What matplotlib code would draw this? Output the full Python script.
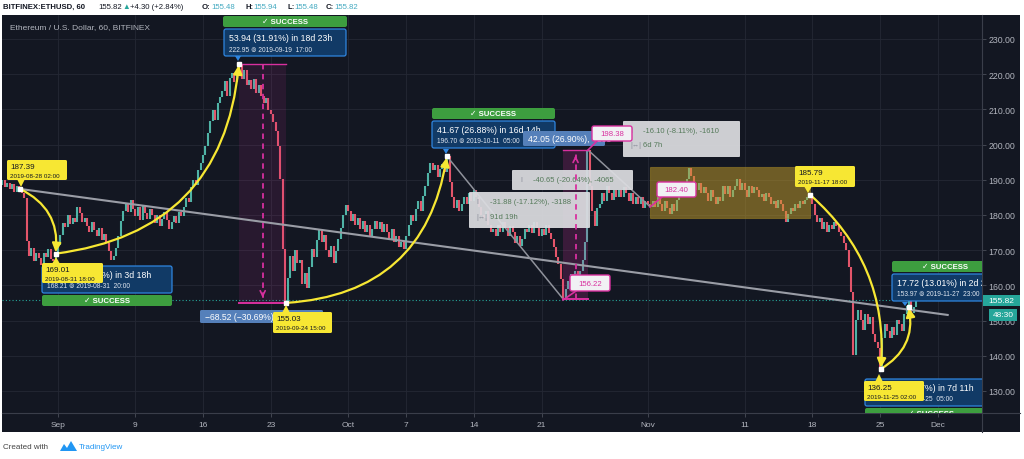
import matplotlib
matplotlib.use("Agg")
import matplotlib.pyplot as plt
import matplotlib.dates as mdates
import matplotlib.transforms as mtransforms
from matplotlib.patches import Rectangle, FancyBboxPatch, FancyArrowPatch, Polygon
from matplotlib.lines import Line2D
import numpy as np
import pandas as pd

# 6-hourly closes (00, 06, 12, 18h), from 2019-08-26
closes = [
    188.6, 189.8, 187.9, 189.2,   # Aug 26
    187.5, 188.9, 186.4, 188.1,
    187.39, 186.2, 184.9, 172.5,
    168.4, 170.6, 166.9, 169.3,
    167.8, 165.9, 169.1, 168.2,
    170.4, 167.6, 166.8, 169.01,  # Aug 31
    171.5, 174.2, 177.8, 176.6,   # Sep 1
    179.9, 177.3, 179.1, 178.0,
    182.3, 180.7, 177.9, 179.2,
    176.8, 175.1, 177.9, 175.8,
    173.9, 176.2, 172.8, 174.6,
    171.9, 169.8, 167.2, 168.4,
    170.5, 174.1, 178.3, 181.2,
    183.1, 180.9, 184.2, 181.8,
    179.7, 182.4, 178.6, 182.9,
    180.6, 178.8, 181.7, 179.9,   # Sep 10
    177.6, 180.1, 176.9, 178.8,
    180.9, 178.7, 175.9, 178.1,
    179.8, 177.6, 180.9, 179.7,
    182.2, 184.8, 183.6, 187.9,
    189.8, 188.6, 192.9, 194.8,
    196.9, 199.7, 203.2, 206.8,
    209.7, 206.9, 211.8, 213.6,
    215.2, 218.1, 213.9, 218.8,
    220.3, 217.9, 220.8, 222.95,
    218.7, 221.2, 216.8, 218.3,   # Sep 20
    215.9, 218.6, 214.7, 216.9,
    213.8, 211.7, 213.1, 209.8,
    208.6, 206.5, 203.9, 199.6,
    190.2, 170.4, 155.03, 162.1,
    168.3, 164.2, 170.1, 166.4,
    167.2, 160.3, 163.4, 159.2,
    165.1, 170.2, 168.1, 173.0,
    175.9, 172.2, 174.3, 170.1,
    168.2, 171.1, 166.3, 169.8,
    173.2, 176.4, 180.1, 182.9,   # Sep 30
    181.2, 178.4, 180.3, 177.1,   # Oct 1
    179.2, 176.1, 178.4, 175.3,
    177.2, 173.8, 176.1, 178.2,
    176.0, 178.1, 175.2, 177.3,
    175.1, 172.9, 176.0, 172.4,
    174.1, 170.9, 172.2, 170.3,
    173.9, 177.2, 180.1, 178.2,
    181.8, 184.1, 181.2, 185.3,
    188.1, 191.8, 194.9, 192.7,
    194.2, 190.8, 193.1, 194.6,   # Oct 10
    192.2, 196.70, 189.3, 185.1,
    182.1, 184.2, 181.0, 183.1,
    185.2, 183.0, 186.1, 184.0,
    187.0, 185.1, 182.2, 180.1,
    179.0, 181.2, 177.1, 175.2,
    176.1, 174.0, 177.2, 175.1,
    178.0, 176.2, 174.1, 177.0,
    175.2, 172.1, 174.0, 171.2,
    173.1, 176.0, 175.2, 177.1,
    175.0, 178.1, 176.2, 174.1,   # Oct 20
    176.0, 174.2, 177.1, 175.0,
    173.2, 171.0, 168.1, 166.2,
    161.8, 156.22, 159.1, 161.2,
    163.1, 160.2, 164.1, 162.0,
    164.2, 167.1, 172.2, 198.38,
    188.1, 181.2, 177.0, 182.1,
    183.2, 186.1, 184.0, 188.2,
    186.1, 184.2, 187.1, 185.0,
    187.2, 185.1, 188.0, 186.2,
    184.1, 186.2, 183.0, 185.1,   # Oct 30
    183.2, 185.0, 182.1, 184.0,
    183.1, 182.40, 184.1, 182.2,  # Nov 1
    185.0, 183.1, 181.2, 184.1,
    182.0, 180.2, 183.1, 181.0,
    184.2, 186.1, 189.0, 188.1,
    190.2, 193.4, 191.0, 189.1,
    187.0, 189.2, 186.1, 188.0,
    186.2, 184.0, 187.1, 185.2,
    183.1, 185.2, 184.0, 188.1,
    186.0, 188.2, 185.1, 187.0,
    188.2, 190.1, 187.0, 189.2,   # Nov 10
    187.1, 185.0, 188.2, 186.1,
    188.0, 187.1, 185.2, 186.0,
    184.1, 186.2, 185.0, 183.1,
    184.0, 182.1, 184.2, 183.0,
    181.1, 178.0, 180.2, 182.1,
    181.0, 183.2, 182.0, 184.1,
    183.0, 184.2, 185.1, 185.79,
    183.2, 180.1, 178.0, 179.2,
    176.1, 178.0, 175.2, 177.1,
    176.0, 178.1, 177.0, 175.2,   # Nov 20
    174.1, 172.0, 170.1, 165.2,
    158.1, 140.2, 150.1, 153.0,
    150.1, 147.2, 152.0, 149.1,
    151.0, 146.1, 144.0, 142.2,
    136.25, 145.1, 149.0, 147.1,
    145.0, 148.1, 146.0, 150.2,
    149.0, 147.1, 152.0, 154.1,
    156.0, 152.1, 154.0, 155.82,  # Nov 28
]

pivot_times = ["2019-08-28 02:00", "2019-08-31 18:00", "2019-09-19 17:00", "2019-09-24 15:00",
               "2019-10-11 05:00", "2019-11-17 18:00", "2019-11-25 02:00", "2019-11-27 23:00"]
pivot_prices = [187.39, 169.01, 222.95, 155.03, 196.70, 185.79, 136.25, 153.97]

range_times = ["2019-10-23 05:00", "2019-10-25 20:00", "2019-11-01 05:00"]
range_prices = [156.22, 198.38, 182.40]

trend_times = ["2019-08-28 02:00", "2019-12-02 00:00"]
trend_prices = [187.39, 151.6]

zone_times = ["2019-11-01 05:00", "2019-11-17 18:00"]
zone_prices = [179.2, 193.7]

last_price = 155.82

y_ticks = [130, 140, 150, 160, 170, 180, 190, 200, 210, 220, 230]
x_tick_dates = ["2019-09-01", "2019-09-09", "2019-09-16", "2019-09-23", "2019-10-01", "2019-10-07",
                "2019-10-14", "2019-10-21", "2019-11-01", "2019-11-11", "2019-11-18", "2019-11-25",
                "2019-12-01"]
x_tick_labels = ["Sep", "9", "16", "23", "Oct", "7", "14", "21", "Nov", "11", "18", "25", "Dec"]

BG = "#131722"
GRID = "#242834"
AXT = "#b2b5be"
UP = "#4fb3a6"
DOWN = "#e3556a"
YEL = "#f7e733"
BFILL = "#113a66"
BEDGE = "#2f86e0"
LBLUE = "#5580ba"
GREEN = "#3d9e3f"
PINK = "#d8309f"
TEAL = "#26a69a"

plt.rcParams["font.family"] = ["Liberation Sans", "DejaVu Sans"]

W, H = 1024, 460
fig = plt.figure(figsize=(W / 100, H / 100), dpi=100)
fig.patch.set_facecolor("white")
PX = mtransforms.Affine2D().scale(1 / W, -1 / H).translate(0, 1) + fig.transFigure


def num(s):
    return mdates.date2num(pd.to_datetime(s).to_numpy())


fig.add_artist(Rectangle((2, 16), 1018, 417, transform=PX, fc=BG, ec="none", zorder=-5))
ax = fig.add_axes([2 / W, 46 / H, 980 / W, 398 / H])
ax.set_facecolor(BG)

# candles
times = pd.date_range("2019-08-26", periods=len(closes), freq="6h")
tx = mdates.date2num(times.to_numpy())
c = np.array(closes)
o = np.r_[c[0], c[:-1]]
up = c >= o
ax.vlines(tx[up], o[up], c[up], color=UP, lw=1.5, zorder=2)
ax.vlines(tx[~up], c[~up], o[~up], color=DOWN, lw=1.5, zorder=2)

ax.axhline(last_price, color=TEAL, ls=(0, (1, 2)), lw=0.8, zorder=2)

px_t = num(pivot_times)
rx_t = num(range_times)

# trend lines
ax.plot(num(trend_times), trend_prices, color="#9a9da6", lw=1.5, zorder=3)
ax.plot([px_t[4], rx_t[0]], [pivot_prices[4], range_prices[0]], color="#8f929b", lw=1.1, zorder=3)
ax.plot([rx_t[1], rx_t[2]], [range_prices[1], range_prices[2]], color="#8f929b", lw=1.1, zorder=3)

# olive rectangle
zt = num(zone_times)
ax.add_patch(Rectangle((zt[0], zone_prices[0]), zt[1] - zt[0], zone_prices[1] - zone_prices[0],
                       fc="#c9a22a", alpha=0.5, ec="#a88a25", lw=0.8, zorder=2.5))


# price ranges
def price_range(t0, t1, p_from, p_to, fa, z):
    lo, hi = min(p_from, p_to), max(p_from, p_to)
    ax.add_patch(Rectangle((t0, lo), t1 - t0, hi - lo, fc=PINK, alpha=fa, ec="none", zorder=2.5))
    ax.plot([t0, t1], [hi, hi], color=PINK, lw=1.0, zorder=z)
    ax.plot([t0, t1], [lo, lo], color=PINK, lw=1.4, zorder=z)
    tm = (t0 + t1) / 2
    step = 1.2 if p_to > p_from else -1.2
    ax.plot([tm, tm], [p_from, p_to - step], color=PINK, lw=1.3, ls=(0, (3, 2.5)), zorder=z)
    ax.add_patch(FancyArrowPatch((tm, p_to - 2.5 * step), (tm, p_to - 0.6 * step), arrowstyle="->",
                                 mutation_scale=9, color=PINK, lw=1.2, zorder=z))


price_range(px_t[2], px_t[3], pivot_prices[2], pivot_prices[3], 0.11, 3)

# yellow curves
arcs = [(0, 1, -0.35), (1, 2, 0.4), (3, 4, 0.4), (5, 6, -0.25), (6, 7, 0.35)]
for a, b, rad in arcs:
    ax.add_patch(FancyArrowPatch((px_t[a], pivot_prices[a]), (px_t[b], pivot_prices[b]),
                                 connectionstyle=f"arc3,rad={rad}", arrowstyle="-|>", mutation_scale=13,
                                 color=YEL, lw=1.6, shrinkA=0, shrinkB=1, zorder=4))
ax.plot(px_t, pivot_prices, "s", ms=3, mfc="white", mec="white", ls="none", zorder=5)


# label helpers (pixel coords from top-left)
def rbox(x0, y0, x1, y1, fc, ec="none", lw=0.0, z=6, r=2.0, alpha=1.0):
    ax.add_patch(FancyBboxPatch((x0, y0), x1 - x0, y1 - y0, boxstyle=f"round,pad=0,rounding_size={r}",
                                transform=PX, fc=fc, ec=ec, lw=lw, alpha=alpha, zorder=z))


def ptxt(x, y, s, size, color, z=7, ha="left", weight="normal"):
    ax.text(x, y, s, transform=PX, fontsize=size, color=color, ha=ha, va="center",
            fontweight=weight, zorder=z, clip_on=True)


def tri(x, y0, y1, fc, z, half=3.5):
    ax.add_patch(Polygon([(x - half, y0), (x + half, y0), (x, y1)], closed=True, transform=PX,
                         fc=fc, ec="none", zorder=z))


def success(x0, x1, y0):
    rbox(x0, y0, x1, y0 + 11, GREEN, z=6)
    ptxt((x0 + x1) / 2, y0 + 5.8, "✓ SUCCESS", 5.6, "white", z=6.1, ha="center", weight="bold")


def forecast(x0, x1, y0, l1, l2, z=6.2):
    rbox(x0, y0, x1, y0 + 27, BFILL, BEDGE, 0.9, z=z)
    ptxt(x0 + 5, y0 + 8.5, l1, 6.3, "white", z=z + 0.05)
    ptxt(x0 + 5, y0 + 20, l2, 4.8, "#dfe6f0", z=z + 0.05)


def ylab(x0, y0, x1, y1, price, date, px, tip):
    rbox(x0, y0, x1, y1, YEL, z=8, r=1.5)
    tri(px, y1 if tip > y1 else y0, tip, YEL, 8)
    ptxt(x0 + 3, y0 + 6.5, price, 5.8, "#131722", z=8.1)
    ptxt(x0 + 3, y0 + 15.5, date, 4.5, "#131722", z=8.1)


def plab(x0, y0, x1, y1, s, p0, p1):
    ax.plot([p0[0], p1[0]], [p0[1], p1[1]], transform=PX, color=PINK, lw=1.2, zorder=8)
    rbox(x0, y0, x1, y1, "#f1f1f4", PINK, 1.0, z=8.2, r=2)
    ptxt((x0 + x1) / 2, (y0 + y1) / 2 + 0.5, s, 5.6, PINK, z=8.3, ha="center")


def gbox(x0, y0, x1, y1, rows, ix, tx_):
    rbox(x0, y0, x1, y1, "#dcdde1", z=6, r=1, alpha=0.93)
    for y, icon, s in rows:
        ptxt(ix, y, icon, 5.2, "#8a8e99", z=6.05)
        ptxt(tx_, y, s, 5.5, "#557a5a", z=6.05)


# grey measure boxes
gbox(469, 193, 590, 229, [(203, "I", "-31.88 (-17.12%), -3188"), (218, "|↔|", "91d 19h")], 476, 490)
gbox(512, 171, 633, 191, [(180.5, "I", "-40.65 (-20.64%), -4065")], 520, 533)
gbox(623, 122, 740, 158, [(132, "I", "-16.10 (-8.11%), -1610"), (146, "|↔|", "6d 7h")], 630, 643)

price_range(rx_t[0], rx_t[1], range_prices[0], range_prices[1], 0.2, 7)

# forecast boxes
success(223, 347, 17)
forecast(224, 346, 30, "53.94 (31.91%) in 18d 23h", "222.95 ⊚ 2019-09-19  17:00")
tri(238, 57, 62, BEDGE, 6.2, 3)
forecast(42, 172, 267, "-19.18 (-10.23%) in 3d 18h", "168.21 ⊚ 2019-08-31  20:00")
success(42, 172, 296)
success(432, 555, 109)
forecast(432, 555, 122, "41.67 (26.88%) in 16d 14h", "196.70 ⊚ 2019-10-11  05:00")
tri(446, 150, 155, BEDGE, 6.2, 3)
success(892, 998, 262)
forecast(892, 998, 275, "17.72 (13.01%) in 2d 21h", "153.97 ⊚ 2019-11-27  23:00")
tri(905, 303, 307, BEDGE, 6.2, 3)
forecast(865, 998, 380, "-49.54 (-26.67%) in 7d 11h", "136.25 ⊚ 2019-11-25  05:00")
success(865, 998, 409)

rbox(200, 311, 323, 324, LBLUE, z=6.5, r=1.5)
ptxt(205, 318, "−68.52 (−30.69%), −6852", 6.2, "white", z=6.55)
rbox(523, 132, 605, 147, LBLUE, z=6.5, r=1.5)
ptxt(528, 140, "42.05 (26.90%), 4205", 6.2, "white", z=6.55)

# pink price labels
plab(592, 127, 632, 142, "198.38", (588, 151), (597, 142))
plab(570, 276, 610, 292, "156.22", (563, 301), (576, 292))
plab(657, 183, 696, 198, "182.40", (650, 208), (662, 198))

# yellow price labels
ylab(7, 161, 67, 181, "187.39", "2019-08-28 02:00", 21, 188)
ylab(42, 264, 103, 284, "169.01", "2019-08-31 18:00", 56, 258)
ylab(273, 313, 332, 334, "155.03", "2019-09-24 15:00", 286, 306)
ylab(795, 167, 855, 188, "185.79", "2019-11-17 18:00", 808, 194)
ylab(864, 382, 924, 402, "136.25", "2019-11-25 02:00", 879, 375)

ptxt(10, 28, "Ethereum / U.S. Dollar, 60, BITFINEX", 6, AXT, z=9)

# axes
ax.set_xlim(num("2019-08-26 05:00"), num("2019-12-05 13:10"))
ax.set_ylim(123.75, 236.8)
ax.yaxis.tick_right()
ax.set_yticks(y_ticks)
ax.set_yticklabels([f"{v:.2f}" for v in y_ticks])
ax.set_xticks(num(x_tick_dates))
ax.set_xticklabels(x_tick_labels)
ax.tick_params(axis="y", labelcolor=AXT, color="#4a4e59", labelsize=6.3, length=3, pad=1.5, width=0.6)
ax.tick_params(axis="x", labelcolor=AXT, color="#4a4e59", labelsize=6, length=3, pad=2.5, width=0.6)
ax.grid(True, color=GRID, lw=0.6)
ax.set_axisbelow(True)
for s in ["left", "top"]:
    ax.spines[s].set_visible(False)
for s in ["right", "bottom"]:
    ax.spines[s].set_color("#3a3e4a")
    ax.spines[s].set_linewidth(0.8)
fig.add_artist(Line2D([982, 1020], [414, 414], transform=PX, color="#3a3e4a", lw=0.8))
fig.add_artist(Line2D([982, 982], [414, 433], transform=PX, color="#3a3e4a", lw=0.8))

# last price tags on the axis
fig.add_artist(Rectangle((983, 296), 37, 11, transform=PX, fc=TEAL, ec="none", zorder=5))
fig.text(1001, 301.5, "155.82", transform=PX, fontsize=6, color="white", ha="center", va="center", zorder=6)
fig.add_artist(Rectangle((989, 310), 28, 12, transform=PX, fc=TEAL, ec="none", zorder=5))
fig.text(1003, 316, "48:30", transform=PX, fontsize=6, color="white", ha="center", va="center", zorder=6)

# header
hdr = [(3, "BITFINEX:ETHUSD, 60", "#131722", "bold"), (98, "155.82", "#131722", "normal"),
       (122, "▲", TEAL, "normal"), (130, "+4.30 (+2.84%)", "#131722", "normal"),
       (202, "O:", "#131722", "bold"), (211, "155.48", "#42a9c0", "normal"),
       (245, "H:", "#131722", "bold"), (253, "155.94", "#42a9c0", "normal"),
       (287, "L:", "#131722", "bold"), (294, "155.48", "#42a9c0", "normal"),
       (326, "C:", "#131722", "bold"), (334, "155.82", "#42a9c0", "normal")]
for x, s, col, wt in hdr:
    fig.text(x, 7.5, s, transform=PX, fontsize=5.6, color=col, fontweight=wt, va="center")

# footer
fig.text(3, 448, "Created with", transform=PX, fontsize=5.8, color="#444444", va="center")
fig.add_artist(Polygon([(60, 452), (64, 445), (67, 449), (71, 442), (77, 452)], closed=True,
                       transform=PX, fc="#2196f3", ec="none"))
fig.text(79, 448, "TradingView", transform=PX, fontsize=5.8, color="#2196f3", va="center")

fig.savefig("out.png", dpi=100, facecolor="white")
